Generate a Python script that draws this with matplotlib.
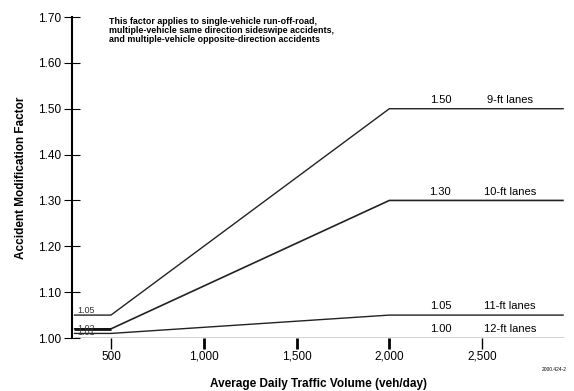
import matplotlib
matplotlib.use("Agg")
import matplotlib.pyplot as plt

plt.rcParams['font.family'] = ['Liberation Sans', 'DejaVu Sans']

adt_break = [300, 500, 2000, 2940]
lanes = ["9-ft lanes", "10-ft lanes", "11-ft lanes", "12-ft lanes"]
amf_low = [1.05, 1.02, 1.01, 1.00]
amf_high = [1.50, 1.30, 1.05, 1.00]
low_labels = ["1.05", "1.02", "1.01"]
high_labels = ["1.50", "1.30", "1.05", "1.00"]
xticks = [500, 1000, 1500, 2000, 2500]
xtick_labels = ["500", "1,000", "1,500", "2,000", "2,500"]
yticks = [1.00, 1.10, 1.20, 1.30, 1.40, 1.50, 1.60, 1.70]

fig = plt.figure(figsize=(5.74, 3.91), dpi=100)
ax = fig.add_axes([0.1254, 0.1355, 0.86, 0.821])

for i in range(4):
    y = [amf_low[i], amf_low[i], amf_high[i], amf_high[i]]
    ax.plot(adt_break, y, color="#222222", lw=1.2 if i == 1 else 1.0,
            solid_capstyle="butt")
# the 10-ft low segment is drawn heavier in the original
ax.plot(adt_break[:2], [amf_low[1]] * 2, color="#111111", lw=2.0,
        solid_capstyle="butt")

for i, lab in enumerate(low_labels):
    ax.text(318, amf_low[i] + 0.001, lab, fontsize=6.5, color="#333333",
            ha="left", va="bottom" if i == 0 else "center")

for i, lab in enumerate(high_labels):
    ax.text(2275, amf_high[i] + 0.008, lab, fontsize=8, ha="center", va="bottom")
    ax.text(2650, amf_high[i] + 0.008, lanes[i], fontsize=8, ha="center", va="bottom")

ax.set_xlim(290, 2950)
ax.set_ylim(1.00, 1.70)
for s in ["top", "right", "bottom"]:
    ax.spines[s].set_visible(False)
ax.spines["left"].set_linewidth(1.5)

ax.set_yticks(yticks)
ax.set_yticklabels(["%.2f" % v for v in yticks], fontsize=8.5)
ax.tick_params(axis="y", direction="inout", length=12, width=0.8, pad=2)
ax.set_xticks(xticks)
ax.set_xticklabels(xtick_labels, fontsize=8.5)
ax.tick_params(axis="x", direction="out", length=8, width=1.0, pad=1)
for t in ax.xaxis.get_major_ticks()[1:4]:
    t.tick1line.set_markeredgewidth(2.0)

ax.set_xlabel("Average Daily Traffic Volume (veh/day)", fontsize=8.5,
              fontweight="bold", labelpad=11)
ax.set_ylabel("Accident Modification Factor", fontsize=8.5,
              fontweight="bold", labelpad=8)

ax.text(0.075, 1.0, "This factor applies to single-vehicle run-off-road,\n"
        "multiple-vehicle same direction sideswipe accidents,\n"
        "and multiple-vehicle opposite-direction accidents",
        transform=ax.transAxes, fontsize=6.4, fontweight="bold",
        ha="left", va="top", linespacing=1.0)

fig.text(0.966, 0.052, "2000.424-2", fontsize=3.5, ha="center")

fig.savefig("out.png", dpi=100)
